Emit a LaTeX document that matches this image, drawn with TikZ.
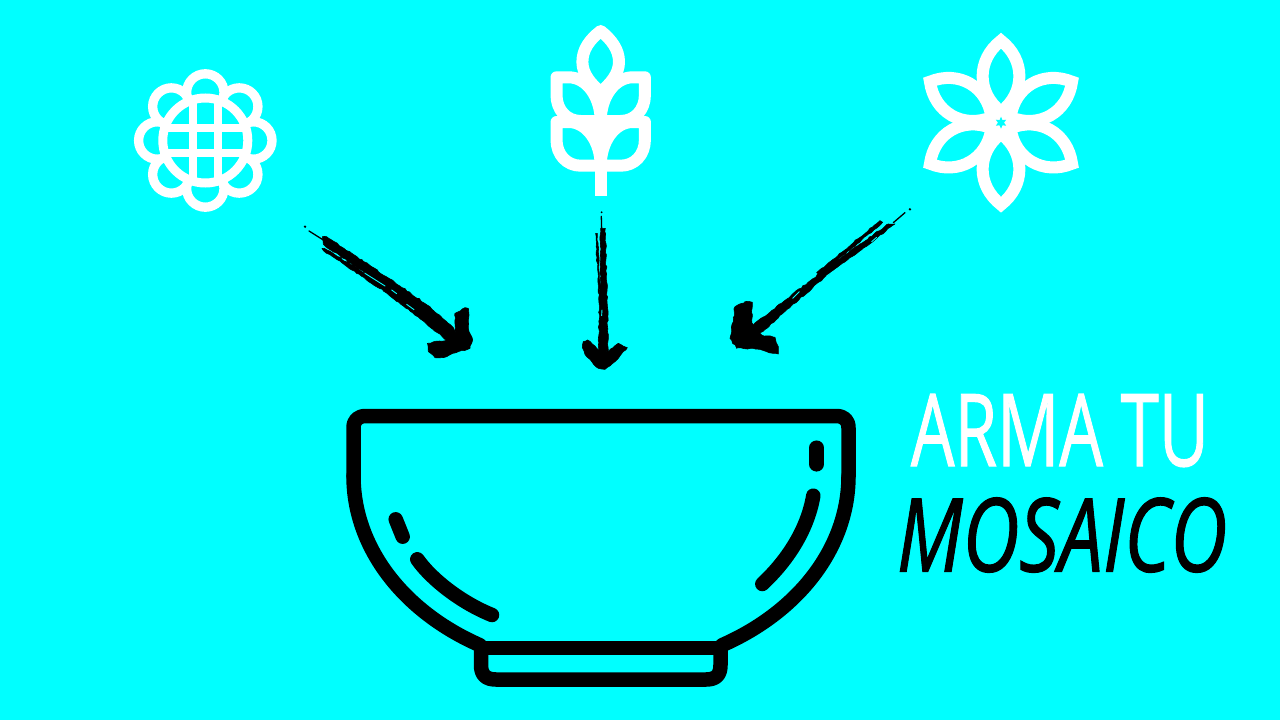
\documentclass[tikz,border=0pt]{standalone}
\usepackage{fontspec}
\usetikzlibrary{decorations.pathmorphing}
\newfontfamily\handfont[FakeBold=1.2]{Open Sans}
\definecolor{bg}{RGB}{0,255,255}
\tikzset{
  bowlline/.style={draw=black,line width=14.5pt,line cap=round,line join=round},
  wheat/.style={draw=white,fill=bg,line width=12pt,line join=round},
  petal/.style={draw=white,line width=12pt,line join=miter},
  lobe/.style={draw=white,line width=9.3pt},
  grid/.style={draw=white,line width=8.5pt},
  sketch/.style={fill=black,draw=black,line width=.6pt,line join=round,decorate,decoration={random steps,segment length=3pt,amplitude=.7pt}},
  fine/.style={draw=black,line width=1.3pt,line cap=round},
  streak/.style={draw=bg,line width=.9pt,line cap=round},
  zoomA/.style={shift={(290,205)},x=.3333pt,y=-.3333pt},
  zoomB/.style={shift={(720,200)},x=.3333pt,y=-.3333pt}
}
\begin{document}
\begin{tikzpicture}[x=1pt,y=-1pt]
\fill[bg] (0,0) rectangle (1280,720);
\useasboundingbox (0,0) rectangle (1280,720);
% round flower
\begin{scope}[shift={(205.3,140.5)}]
  \foreach \a in {0,45,...,315} \draw[lobe] (\a:48) circle[radius=18.7];
  \fill[bg] (0,0) circle[radius=42.5];
  \begin{scope}
    \clip (0,0) circle[radius=42.5];
    \draw[grid] (-12.4,-45) -- (-12.4,45) (12.6,-45) -- (12.6,45);
    \draw[grid] (-45,-12.6) -- (45,-12.6) (-45,12.4) -- (45,12.4);
  \end{scope}
  \draw[draw=white,line width=9pt] (0,0) circle[radius=42.5];
\end{scope}
% wheat
\foreach \s/\y in {1/0,1/44.7,-1/0,-1/44.7}{
  \begin{scope}[shift={(600.7,\y)},xscale=\s]
    \fill[white] (-30,77.3) -- (0,77.3) -- (0,121) -- cycle;
    \draw[wheat] (-44.2,77.3) -- (-32,77.3) .. controls (-14,77.3) and (0,97) .. (0,121) -- (-20,121) .. controls (-34,121) and (-44.2,110) .. (-44.2,95) -- cycle;
  \end{scope}
}
\draw[wheat] (600.7,31) .. controls (612,40) and (619,50) .. (619,62) .. controls (619,74) and (610,84) .. (600.7,92) .. controls (591,84) and (582.4,74) .. (582.4,62) .. controls (582.4,50) and (589,40) .. cycle;
\draw[draw=white,line width=12pt] (600.7,90) -- (600.7,196);
% six-petal flower
\begin{scope}[shift={(1001,122.7)}]
  \foreach \a in {30,90,...,330}{
    \begin{scope}[rotate=\a]
      \draw[petal] (11,0) .. controls (30,24.5) and (63,24.5) .. (82,0) .. controls (63,-24.5) and (30,-24.5) .. cycle;
    \end{scope}
  }
  \fill[white] (0,0) circle[radius=17];
  \fill[bg] (90:6) -- (120:3) -- (150:6) -- (180:3) -- (210:6) -- (240:3) -- (270:6) -- (300:3) -- (330:6) -- (0:3) -- (30:6) -- (60:3) -- cycle;
\end{scope}
% left arrow
\begin{scope}[zoomA]
  \fill[black] (45,65) circle[radius=4];
  \draw[fine] (57,78) -- (100,105);
  \fill[sketch] (98,94) -- (110,95) -- (300,222) -- (420,305) -- (490,368) -- (497,385) -- (470,405) -- (405,352) -- (290,264) -- (285,245) -- (235,212) -- (100,118) -- cycle;
  \fill[sketch] (96,130) -- (103,130) -- (290,245) -- (300,264) -- (290,264) -- (100,137) -- cycle;
  \fill[sketch] (495,325) -- (525,308) -- (535,310) -- (535,370) -- (548,405) -- (540,430) -- (505,440) -- (470,455) -- (435,458) -- (415,440) -- (412,415) -- (470,405) -- (497,385) -- cycle;
  \draw[streak] (350,298) -- (372,314);
  \draw[streak] (305,255) -- (320,266);
  \draw[streak] (225,205) -- (285,243);
  % central arrow
  \fill[black] (935,22) circle[radius=3];
  \draw[fine] (934,34) -- (935,70);
  \fill[sketch] (932,70) -- (946,70) -- (952,300) -- (955,440) -- (925,440) -- (928,300) -- (931,240) -- cycle;
  \fill[sketch] (917,85) -- (922,85) -- (930,240) -- (928,290) -- (925,240) -- cycle;
  \fill[sketch] (880,410) -- (893,405) -- (925,435) -- (955,440) -- (985,415) -- (1012,428) -- (975,470) -- (945,493) -- (925,490) -- (890,455) -- (878,430) -- cycle;
  \draw[streak] (936,315) -- (935,332);
\end{scope}
% right arrow
\begin{scope}[zoomB]
  \fill[black] (570,28) circle[radius=4];
  \draw[fine] (555,38) -- (520,68);
  \fill[sketch] (505,72) -- (525,72) -- (310,235) -- (115,405) -- (100,375) -- (215,285) -- (310,212) -- cycle;
  \fill[sketch] (480,62) -- (488,67) -- (390,150) -- (300,225) -- (290,218) -- cycle;
  \fill[sketch] (45,320) -- (75,305) -- (97,307) -- (95,360) -- (100,375) -- (125,405) -- (165,412) -- (175,440) -- (175,462) -- (140,455) -- (100,445) -- (50,445) -- (30,415) -- (35,390) -- cycle;
  \draw[streak] (320,228) -- (385,182);
  \draw[streak] (218,295) -- (238,275);
  \draw[streak] (455,125) -- (470,112);
\end{scope}
% bowl
\draw[bowlline] (353.5,476) -- (353.5,428) .. controls (353.5,420) and (358,416) .. (366,416) -- (836,416) .. controls (844,416) and (848.5,420) .. (848.5,428) -- (848.5,476);
\draw[bowlline] (353.5,476) arc[start angle=180,end angle=119.3,x radius=247.5,y radius=194];
\draw[bowlline] (848.5,476) arc[start angle=0,end angle=60.7,x radius=247.5,y radius=194];
\draw[bowlline] (484,648) -- (718,648);
\draw[bowlline] (481,650) -- (481,665) .. controls (481,675) and (486,679.5) .. (496,679.5) -- (706,679.5) .. controls (716,679.5) and (720.5,675) .. (720.5,665) -- (720.5,650);
\draw[bowlline] (395.7,519.3) -- (402.7,536.7);
\draw[bowlline] (417.3,559.3) .. controls (432,580) and (462,603) .. (492,615);
\draw[bowlline] (816.7,447.7) -- (816.7,464.3);
\draw[bowlline] (813.3,495.7) .. controls (808,527) and (790,558) .. (762.3,584);
% text
\node[inner sep=0pt,text=white] (arma) at (1060,430.5) {\resizebox{298pt}{72pt}{\handfont ARMA TU}};
\node[inner sep=0pt,text=black] (mosaico) at (1062,535) {\resizebox{330pt}{74pt}{\handfont\itshape MOSAICO}};
\end{tikzpicture}
\end{document}
